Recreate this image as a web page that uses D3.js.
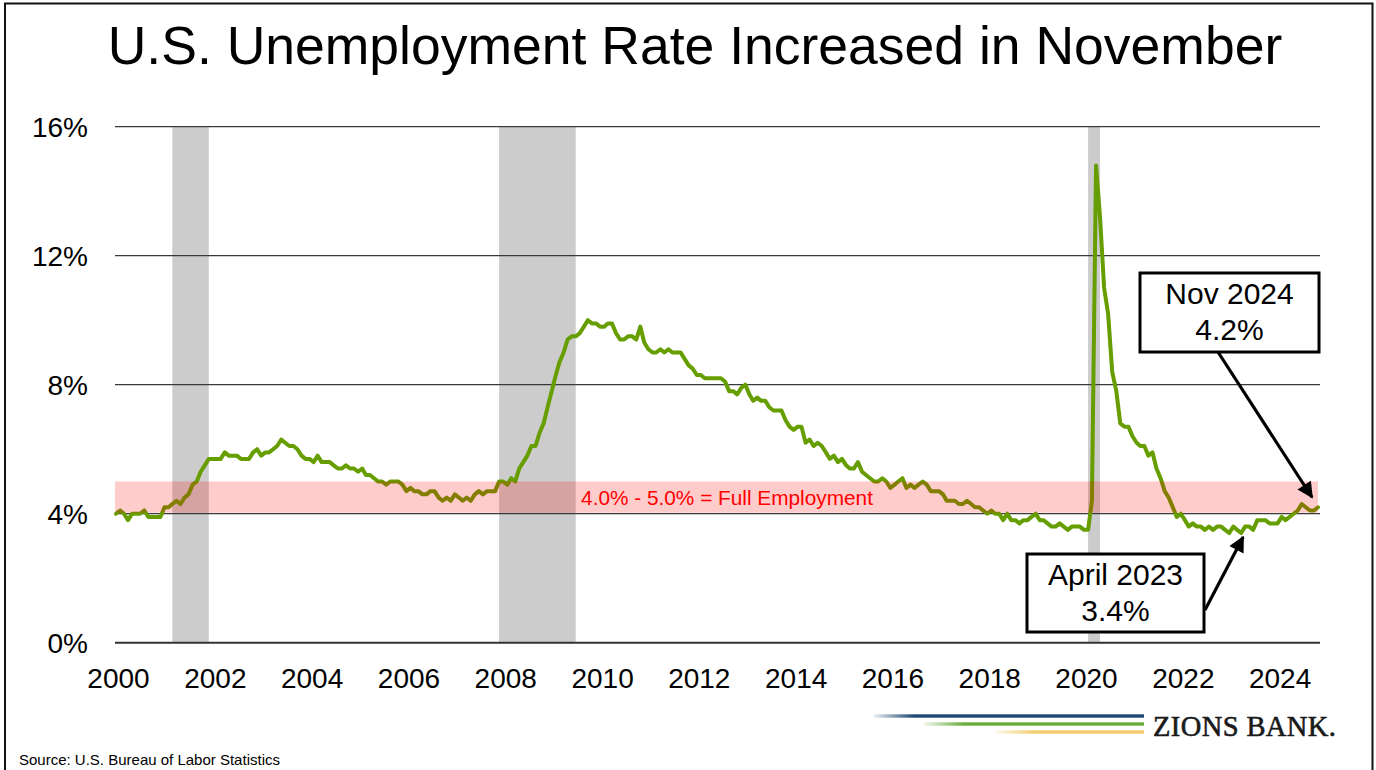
<!DOCTYPE html>
<html>
<head>
<meta charset="utf-8">
<script src="https://cdn.jsdelivr.net/npm/d3@7/dist/d3.min.js"></script>
<style>
  html, body { margin: 0; padding: 0; background: #fff; }
  svg { display: block; font-family: "Liberation Sans", Arial, sans-serif; }
</style>
</head>
<body>
<svg id="chart" width="1376" height="770"></svg>
<script>
// Monthly U.S. unemployment rate (%), January 2000 through November 2024
const startMonth = "2000-01";
const rate2000 = [4.0, 4.1, 4.0, 3.8, 4.0, 4.0, 4.0, 4.1, 3.9, 3.9, 3.9, 3.9];
const rate2001 = [4.2, 4.2, 4.3, 4.4, 4.3, 4.5, 4.6, 4.9, 5.0, 5.3, 5.5, 5.7];
const rate2002 = [5.7, 5.7, 5.7, 5.9, 5.8, 5.8, 5.8, 5.7, 5.7, 5.7, 5.9, 6.0];
const rate2003 = [5.8, 5.9, 5.9, 6.0, 6.1, 6.3, 6.2, 6.1, 6.1, 6.0, 5.8, 5.7];
const rate2004 = [5.7, 5.6, 5.8, 5.6, 5.6, 5.6, 5.5, 5.4, 5.4, 5.5, 5.4, 5.4];
const rate2005 = [5.3, 5.4, 5.2, 5.2, 5.1, 5.0, 5.0, 4.9, 5.0, 5.0, 5.0, 4.9];
const rate2006 = [4.7, 4.8, 4.7, 4.7, 4.6, 4.6, 4.7, 4.7, 4.5, 4.4, 4.5, 4.4];
const rate2007 = [4.6, 4.5, 4.4, 4.5, 4.4, 4.6, 4.7, 4.6, 4.7, 4.7, 4.7, 5.0];
const rate2008 = [5.0, 4.9, 5.1, 5.0, 5.4, 5.6, 5.8, 6.1, 6.1, 6.5, 6.8, 7.3];
const rate2009 = [7.8, 8.3, 8.7, 9.0, 9.4, 9.5, 9.5, 9.6, 9.8, 10.0, 9.9, 9.9];
const rate2010 = [9.8, 9.8, 9.9, 9.9, 9.6, 9.4, 9.4, 9.5, 9.5, 9.4, 9.8, 9.3];
const rate2011 = [9.1, 9.0, 9.0, 9.1, 9.0, 9.1, 9.0, 9.0, 9.0, 8.8, 8.6, 8.5];
const rate2012 = [8.3, 8.3, 8.2, 8.2, 8.2, 8.2, 8.2, 8.1, 7.8, 7.8, 7.7, 7.9];
const rate2013 = [8.0, 7.7, 7.5, 7.6, 7.5, 7.5, 7.3, 7.2, 7.2, 7.2, 6.9, 6.7];
const rate2014 = [6.6, 6.7, 6.7, 6.2, 6.3, 6.1, 6.2, 6.1, 5.9, 5.7, 5.8, 5.6];
const rate2015 = [5.7, 5.5, 5.4, 5.4, 5.6, 5.3, 5.2, 5.1, 5.0, 5.0, 5.1, 5.0];
const rate2016 = [4.8, 4.9, 5.0, 5.1, 4.8, 4.9, 4.8, 4.9, 5.0, 4.9, 4.7, 4.7];
const rate2017 = [4.7, 4.6, 4.4, 4.4, 4.4, 4.3, 4.3, 4.4, 4.3, 4.2, 4.2, 4.1];
const rate2018 = [4.0, 4.1, 4.0, 4.0, 3.8, 4.0, 3.8, 3.8, 3.7, 3.8, 3.8, 3.9];
const rate2019 = [4.0, 3.8, 3.8, 3.7, 3.6, 3.6, 3.7, 3.6, 3.5, 3.6, 3.6, 3.6];
const rate2020 = [3.5, 3.5, 4.4, 14.8, 13.2, 11.0, 10.2, 8.4, 7.8, 6.8, 6.7, 6.7];
const rate2021 = [6.4, 6.2, 6.1, 6.1, 5.8, 5.9, 5.4, 5.1, 4.7, 4.5, 4.2, 3.9];
const rate2022 = [4.0, 3.8, 3.6, 3.7, 3.6, 3.6, 3.5, 3.6, 3.5, 3.6, 3.6, 3.5];
const rate2023 = [3.4, 3.6, 3.5, 3.4, 3.6, 3.6, 3.5, 3.8, 3.8, 3.8, 3.7, 3.7];
const rate2024 = [3.7, 3.9, 3.8, 3.9, 4.0, 4.1, 4.3, 4.2, 4.1, 4.1, 4.2];

// NBER recession periods (start month, first month after the end)
const recessionStarts = ["2001-03", "2007-12", "2020-02"];
const recessionEnds   = ["2001-12", "2009-07", "2020-05"];

// Full-employment range
const fullEmploymentRange = [4.0, 5.0];
const fullEmploymentLabel = "4.0% - 5.0% = Full Employment";

// Axis ticks
const yTicks = [0, 4, 8, 12, 16];
const yTickLabels = ["0%", "4%", "8%", "12%", "16%"];
const xTickYears = [2000, 2002, 2004, 2006, 2008, 2010, 2012, 2014, 2016, 2018, 2020, 2022, 2024];

// Callouts
const calloutMonths = ["2024-11", "2023-04"];
const calloutTitles = ["Nov 2024", "April 2023"];
const calloutValues = [4.2, 3.4];

const titleText = "U.S. Unemployment Rate Increased in November";
const sourceText = "Source: U.S. Bureau of Labor Statistics";
const brandText = "ZIONS BANK.";

// ---------------------------------------------------------------
const parseMonth = d3.timeParse("%Y-%m");
const allRates = [].concat(rate2000, rate2001, rate2002, rate2003, rate2004, rate2005,
  rate2006, rate2007, rate2008, rate2009, rate2010, rate2011, rate2012, rate2013,
  rate2014, rate2015, rate2016, rate2017, rate2018, rate2019, rate2020, rate2021,
  rate2022, rate2023, rate2024);
const t0 = parseMonth(startMonth);
const series = allRates.map((v, i) => ({ date: d3.timeMonth.offset(t0, i), value: v }));

const svg = d3.select("#chart");
const plot = { left: 115, right: 1320, top: 126.7, bottom: 642.7 };

const x = d3.scaleTime()
  .domain([series[0].date, series[series.length - 1].date])
  .range([116, 1318]);
const y = d3.scaleLinear().domain([0, 16]).range([plot.bottom, plot.top]);

// Outer frame
svg.append("rect")
  .attr("x", 5).attr("y", 3.5).attr("width", 1367.5).attr("height", 800)
  .attr("fill", "none").attr("stroke", "#111").attr("stroke-width", 2);

// Title
svg.append("text")
  .attr("x", 695).attr("y", 63.5)
  .attr("text-anchor", "middle")
  .attr("font-size", 53.5)
  .attr("fill", "#000")
  .text(titleText);

// Recession shading
const recessions = recessionStarts.map((s, i) => ({ start: parseMonth(s), end: parseMonth(recessionEnds[i]) }));
svg.append("g").selectAll("rect").data(recessions).join("rect")
  .attr("x", d => x(d.start))
  .attr("width", d => x(d.end) - x(d.start))
  .attr("y", y(16))
  .attr("height", y(0) - y(16))
  .attr("fill", "#cccccc");

// Horizontal gridlines
svg.append("g").selectAll("line").data(yTicks).join("line")
  .attr("x1", plot.left).attr("x2", plot.right)
  .attr("y1", d => y(d)).attr("y2", d => y(d))
  .attr("stroke", d => d === 0 ? "#333" : "#3a3a3a")
  .attr("stroke-width", d => d === 0 ? 2 : 1.3);

// Y-axis labels
const yAxis = d3.axisLeft(y).tickValues(yTicks).tickSize(0)
  .tickFormat((d, i) => yTickLabels[i]);
svg.append("g")
  .attr("transform", "translate(96,0)")
  .call(yAxis)
  .call(g => g.select(".domain").remove())
  .call(g => g.selectAll("text")
    .attr("font-family", "Liberation Sans, Arial, sans-serif")
    .attr("font-size", 28).attr("fill", "#000")
    .attr("x", -8).attr("dy", "0.36em"));

// X-axis labels
const xAxis = d3.axisBottom(x)
  .tickValues(xTickYears.map(yr => new Date(yr, 0, 1)))
  .tickSize(0)
  .tickFormat(d3.timeFormat("%Y"));
svg.append("g")
  .attr("transform", `translate(2,${plot.bottom})`)
  .call(xAxis)
  .call(g => g.select(".domain").remove())
  .call(g => g.selectAll("text")
    .attr("font-family", "Liberation Sans, Arial, sans-serif")
    .attr("font-size", 28).attr("fill", "#000")
    .attr("y", 45).attr("dy", 0));

// Unemployment line
const line = d3.line().x(d => x(d.date)).y(d => y(d.value)).curve(d3.curveLinear);
svg.append("path")
  .datum(series)
  .attr("d", line)
  .attr("fill", "none")
  .attr("stroke", "#669e00")
  .attr("stroke-width", 4)
  .attr("stroke-linejoin", "round")
  .attr("stroke-linecap", "round");

// Full-employment band (translucent, over the line)
svg.append("rect")
  .attr("x", plot.left)
  .attr("width", 1318 - plot.left)
  .attr("y", y(fullEmploymentRange[1]))
  .attr("height", y(fullEmploymentRange[0]) - y(fullEmploymentRange[1]) - 1)
  .attr("fill", "rgba(255,0,0,0.2)");

svg.append("text")
  .attr("x", 727).attr("y", y(fullEmploymentRange[0]) - 9)
  .attr("text-anchor", "middle")
  .attr("font-size", 20.8)
  .attr("fill", "#ff0000")
  .text(fullEmploymentLabel);

// Callout boxes with arrows
const defs = svg.append("defs");
defs.append("marker")
  .attr("id", "arrowhead")
  .attr("viewBox", "0 0 10 10")
  .attr("refX", 9).attr("refY", 5)
  .attr("markerWidth", 5.5).attr("markerHeight", 5)
  .attr("markerUnits", "strokeWidth")
  .attr("orient", "auto")
  .append("path")
  .attr("d", "M0,0 L10,5 L0,10 Z")
  .attr("fill", "#000");

const callouts = [
  { box: { x: 1140, y: 273, w: 179, h: 79 }, from: [1218, 352], tipDx: -6, tipDy: -10 },
  { box: { x: 1027, y: 554, w: 177, h: 78 }, from: [1205, 610], tipDx: 2, tipDy: 4 }
];
callouts.forEach((c, i) => {
  const d = parseMonth(calloutMonths[i]);
  const v = calloutValues[i];
  const g = svg.append("g");
  g.append("line")
    .attr("x1", c.from[0]).attr("y1", c.from[1])
    .attr("x2", x(d) + c.tipDx).attr("y2", y(v) + c.tipDy)
    .attr("stroke", "#000").attr("stroke-width", 3.2)
    .attr("marker-end", "url(#arrowhead)");
  g.append("rect")
    .attr("x", c.box.x).attr("y", c.box.y)
    .attr("width", c.box.w).attr("height", c.box.h)
    .attr("fill", "#fff").attr("stroke", "#000").attr("stroke-width", 3);
  const cx = c.box.x + c.box.w / 2;
  g.append("text")
    .attr("x", cx).attr("y", c.box.y + 31)
    .attr("text-anchor", "middle").attr("font-size", 30).attr("fill", "#000")
    .text(calloutTitles[i]);
  g.append("text")
    .attr("x", cx).attr("y", c.box.y + 67)
    .attr("text-anchor", "middle").attr("font-size", 30).attr("fill", "#000")
    .text(d3.format(".1f")(v) + "%");
});

// Source note
svg.append("text")
  .attr("x", 19).attr("y", 765)
  .attr("font-size", 15).attr("fill", "#000")
  .text(sourceText);

// Brand mark: three stripes and wordmark
const stripes = [
  { x1: 874, x2: 1144, y: 716, color: "#1d4a72" },
  { x1: 924, x2: 1144, y: 724, color: "#6aac3c" },
  { x1: 995, x2: 1144, y: 732, color: "#f2cc6a" }
];
stripes.forEach((s, i) => {
  const grad = defs.append("linearGradient")
    .attr("id", "stripe" + i)
    .attr("gradientUnits", "userSpaceOnUse")
    .attr("x1", s.x1).attr("x2", s.x1 + 40).attr("y1", 0).attr("y2", 0);
  grad.append("stop").attr("offset", 0).attr("stop-color", s.color).attr("stop-opacity", 0.1);
  grad.append("stop").attr("offset", 1).attr("stop-color", s.color).attr("stop-opacity", 1);
  svg.append("rect")
    .attr("x", s.x1).attr("y", s.y - 1.7)
    .attr("width", s.x2 - s.x1).attr("height", 3.4)
    .attr("fill", `url(#stripe${i})`);
});
svg.append("text")
  .attr("x", 1153).attr("y", 736)
  .attr("font-family", "Liberation Serif, Times New Roman, serif")
  .attr("font-size", 28.5).attr("letter-spacing", 0.4)
  .attr("fill", "#1a1a1a")
  .attr("stroke", "#1a1a1a").attr("stroke-width", 0.6)
  .text(brandText);
</script>
</body>
</html>
